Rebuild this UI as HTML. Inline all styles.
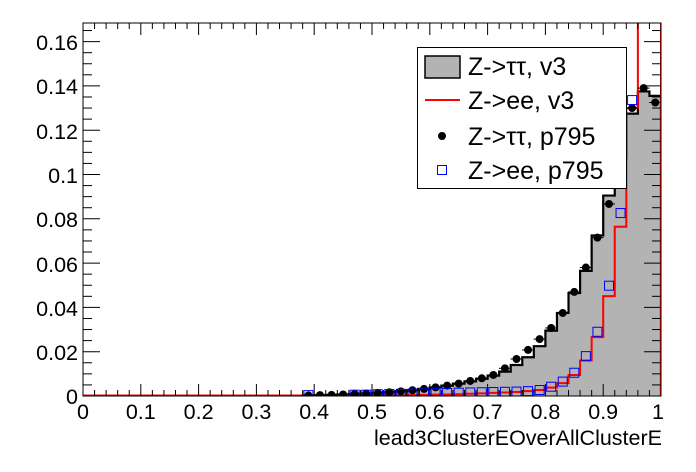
<!DOCTYPE html>
<html><head><meta charset="utf-8"><style>
body{margin:0;background:#fff}
svg{display:block;font-family:"Liberation Sans",sans-serif}
</style></head><body>
<svg id="s" width="696" height="472" xmlns="http://www.w3.org/2000/svg">
<defs><clipPath id="c"><rect x="83" y="23" width="578" height="373"/></clipPath></defs>
<g id="plot" clip-path="url(#c)"></g>
<g id="axes"></g>
<g font-size="21.5" fill="#000">
<text x="78" y="404" text-anchor="end">0</text>
<text x="78" y="360" text-anchor="end">0.02</text>
<text x="78" y="316" text-anchor="end">0.04</text>
<text x="78" y="272" text-anchor="end">0.06</text>
<text x="78" y="227" text-anchor="end">0.08</text>
<text x="78" y="183" text-anchor="end">0.1</text>
<text x="78" y="139" text-anchor="end">0.12</text>
<text x="78" y="94" text-anchor="end">0.14</text>
<text x="78" y="50" text-anchor="end">0.16</text>
<text x="83" y="419" text-anchor="middle">0</text>
<text x="140.8" y="419" text-anchor="middle">0.1</text>
<text x="198.6" y="419" text-anchor="middle">0.2</text>
<text x="256.4" y="419" text-anchor="middle">0.3</text>
<text x="314.2" y="419" text-anchor="middle">0.4</text>
<text x="372" y="419" text-anchor="middle">0.5</text>
<text x="429.8" y="419" text-anchor="middle">0.6</text>
<text x="487.6" y="419" text-anchor="middle">0.7</text>
<text x="545.4" y="419" text-anchor="middle">0.8</text>
<text x="603.2" y="419" text-anchor="middle">0.9</text>
<text x="658" y="419" text-anchor="middle">1</text>
<text x="662" y="445" text-anchor="end">lead3ClusterEOverAllClusterE</text>
</g>
<g>
<rect x="417.5" y="47.5" width="209" height="141" fill="#fff" stroke="#000" stroke-width="1"/>
<rect x="425" y="56" width="35" height="22" fill="#b3b3b3" stroke="#000" stroke-width="1.5"/>
<line x1="425" y1="100" x2="460" y2="100" stroke="#f00" stroke-width="2"/>
<circle cx="442" cy="136" r="4" fill="#000"/>
<rect x="437.5" y="165.5" width="9" height="9" fill="none" stroke="#00f" stroke-width="1"/>
<g font-size="25">
<text x="468" y="75">Z-&gt;ττ, v3</text>
<text x="468" y="109">Z-&gt;ee, v3</text>
<text x="468" y="145">Z-&gt;ττ, p795</text>
<text x="468" y="179">Z-&gt;ee, p795</text>
</g>
</g>
</svg>
<script>
const X=v=>83+v*578, Y=v=>396-v*2215;
const tt=[0.0003,0.0004,0.0005,0.0007,0.0009,0.0011,0.0014,0.0017,0.0021,0.0026,0.0032,0.0039,0.0047,0.0056,0.0066,0.0078,0.0092,0.011,0.014,0.0175,0.0225,0.0295,0.0375,0.0465,0.0565,0.0725,0.0905,0.1075,0.1275,0.1375,0.1355];
const dots=[0.0003,0.0004,0.0005,0.0007,0.0009,0.0011,0.0014,0.0017,0.0021,0.0026,0.0032,0.0039,0.0047,0.0056,0.0068,0.008,0.0095,0.0125,0.0167,0.0208,0.0257,0.0307,0.0375,0.047,0.058,0.0715,0.0867,0.107,0.130,0.139,0.1325];
const ee=[0.0001,0.0001,0.0001,0.0001,0.0002,0.0002,0.0002,0.0003,0.0003,0.0004,0.0005,0.0006,0.0007,0.0008,0.001,0.0012,0.0014,0.0016,0.0018,0.0022,0.0027,0.0038,0.0058,0.0095,0.016,0.0266,0.0451,0.0764,0.130,0.25,0.25];
const bl=[0.0004,null,null,null,0.0006,0.0006,0.0008,0.0009,0.001,0.0011,0.0012,0.0013,0.0014,0.0015,0.0016,0.0017,0.0018,0.0019,0.002,0.0022,0.0027,0.0042,0.0065,0.0105,0.018,0.029,0.0498,0.0826,0.1336,0.25,0.25];
let p=document.getElementById('plot'),h='';
function step(a){let d='M'+X(0.38)+','+Y(0);a.forEach((v,i)=>{const x0=X(0.38+i*0.02),x1=X(0.40+i*0.02);d+=' L'+x0+','+Y(v)+' L'+x1+','+Y(v);});return d+' L'+X(1)+','+Y(0);}
h+='<path d="'+step(tt)+' Z" fill="#b3b3b3" stroke="none"/>';
h+='<path d="'+step(tt)+'" fill="none" stroke="#000" stroke-width="2.2"/>';
h+='<line x1="83" y1="395.5" x2="'+X(0.38)+'" y2="395.5" stroke="#f00" stroke-width="2"/>';
h+='<path d="'+step(ee)+'" fill="none" stroke="#f00" stroke-width="2"/>';
dots.forEach((v,i)=>{const x=X(0.39+i*0.02);h+='<circle cx="'+x+'" cy="'+Y(v)+'" r="4" fill="#000"/><line x1="'+(x-6)+'" y1="'+Y(v)+'" x2="'+(x+6)+'" y2="'+Y(v)+'" stroke="#000"/>';});
bl.forEach((v,i)=>{if(v==null)return;const x=X(0.39+i*0.02);h+='<rect x="'+(x-4.5)+'" y="'+(Y(v)-4.5)+'" width="9" height="9" fill="none" stroke="#00f" stroke-width="1"/>';});
p.innerHTML=h;
let a='<rect x="83" y="23" width="578" height="373" fill="none" stroke="#000" stroke-width="1"/>';
for(let i=0;i<=50;i++){const x=X(i*0.02),L=(i%5==0)?12:6;a+='<line x1="'+x+'" y1="396" x2="'+x+'" y2="'+(396-L)+'" stroke="#000"/><line x1="'+x+'" y1="23" x2="'+x+'" y2="'+(23+L)+'" stroke="#000"/>';}
for(let i=0;i*0.005<=0.168;i++){const y=Y(i*0.005),L=(i%4==0)?17:9;a+='<line x1="83" y1="'+y+'" x2="'+(83+L)+'" y2="'+y+'" stroke="#000"/><line x1="661" y1="'+y+'" x2="'+(661-L)+'" y2="'+y+'" stroke="#000"/>';}
document.getElementById('axes').innerHTML=a;
</script>
</body></html>
